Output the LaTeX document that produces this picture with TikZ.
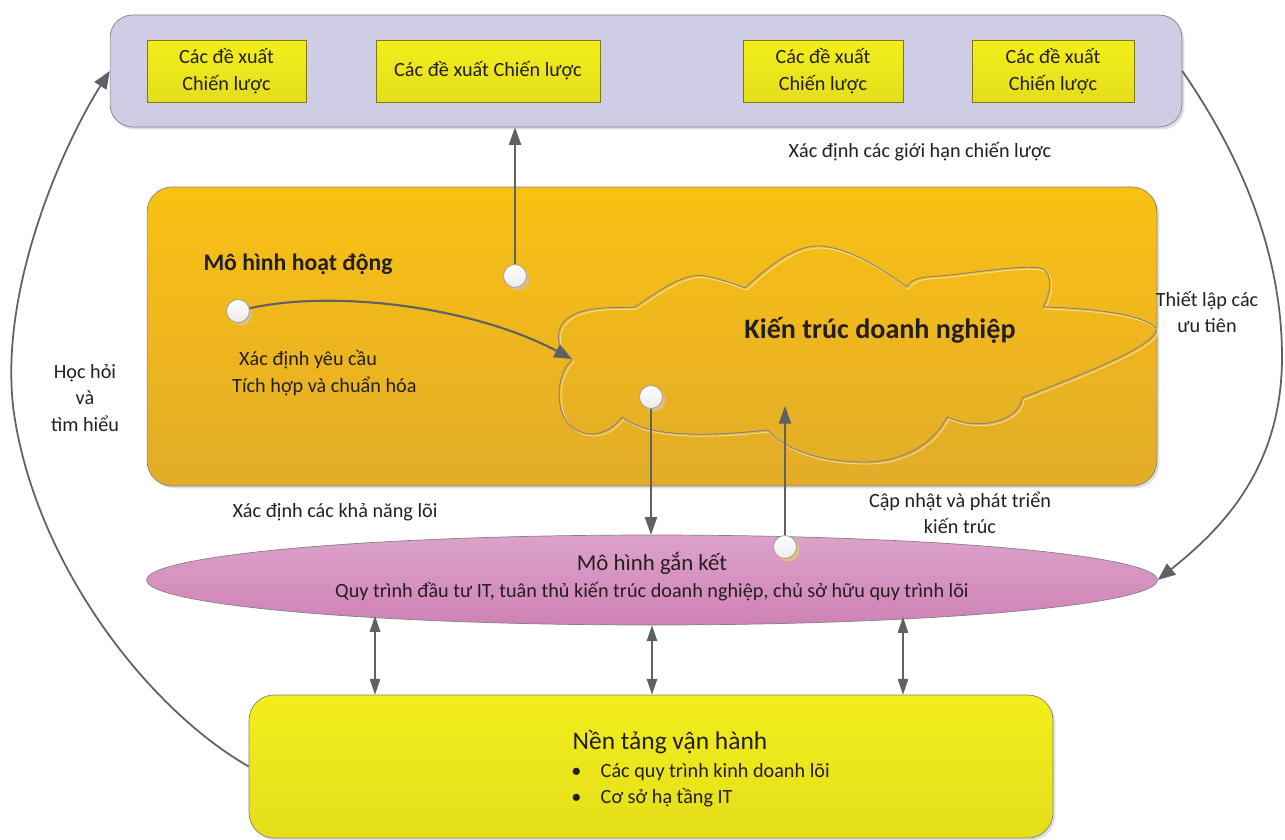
\documentclass[tikz,border=0pt]{standalone}
\usepackage{fontspec}
\setmainfont{Carlito}
\usetikzlibrary{arrows.meta,shapes.geometric,shadows}
\definecolor{lavender}{RGB}{207,204,230}
\definecolor{amberTop}{RGB}{250,193,19}
\definecolor{amberBot}{RGB}{226,172,40}
\definecolor{pinkTop}{RGB}{221,162,202}
\definecolor{pinkBot}{RGB}{207,130,182}
\definecolor{lemonTop}{RGB}{243,238,26}
\definecolor{lemonBot}{RGB}{228,222,28}
\definecolor{edgegray}{RGB}{130,130,132}
\definecolor{arrowgray}{RGB}{96,97,100}
\definecolor{knobshade}{RGB}{222,190,130}
\definecolor{inkgray}{RGB}{35,31,32}
\newcommand{\cloudpath}{(572,360) .. controls (555,350) and (550,322) .. (580,312)
  .. controls (600,306) and (620,308) .. (635,307)
  .. controls (660,290) and (685,272) .. (705,276)
  .. controls (720,279) and (735,284) .. (745,288)
  .. controls (770,265) and (795,245) .. (820,246)
  .. controls (850,248) and (880,268) .. (907,287)
  .. controls (912,277) and (925,277) .. (940,276)
  .. controls (980,272) and (1020,265) .. (1040,268)
  .. controls (1055,272) and (1050,295) .. (1043,307)
  .. controls (1080,308) and (1140,312) .. (1156,328)
  .. controls (1160,345) and (1080,375) .. (1022,398)
  .. controls (1020,420) and (980,432) .. (947,417)
  .. controls (930,450) and (895,462) .. (865,462)
  .. controls (820,462) and (785,450) .. (768,430)
  .. controls (720,435) and (650,440) .. (622,417)
  .. controls (605,440) and (575,440) .. (563,415)
  .. controls (555,395) and (560,370) .. (572,360)}

\begin{document}
\begin{tikzpicture}[x=0.02cm,y=-0.02cm,
  panel/.style={draw=edgegray, drop shadow={shadow xshift=0.05cm,shadow yshift=-0.05cm,fill=black!12,opacity=1}},
  prop/.style={draw=lemonBot!55!black, rectangle, top color=lemonTop, bottom color=lemonBot, minimum height=1.24cm, align=center, text=inkgray, font=\fontsize{11.5}{15}\selectfont, inner sep=1pt},
  knob/.style={circle, draw=black!40, top color=white, bottom color=black!8, minimum size=0.46cm, inner sep=0pt, drop shadow={shadow xshift=0.06cm,shadow yshift=-0.06cm,fill=knobshade,opacity=1}},
  lbl/.style={align=center, text=inkgray, font=\fontsize{11.5}{15}\selectfont},
  arr/.style={arrowgray, line width=1pt, -{Triangle[length=10pt,width=8pt]}},
  link/.style={arrowgray, line width=0.6pt, -{Triangle[length=10pt,width=7pt]}},
  dlink/.style={arrowgray, line width=0.6pt, {Triangle[length=9pt,width=6pt]}-{Triangle[length=9pt,width=6pt]}}]
\useasboundingbox (0,0) rectangle (1285,839);

\node[panel, rounded corners=0.45cm, fill=lavender, minimum width=21.44cm, minimum height=2.24cm] (strat) at (646,71) {};
\node[prop, minimum width=3.18cm] (prop1) at (226.5,71) {Các đề xuất\\Chiến lược};
\node[prop, minimum width=4.48cm] (prop2) at (488,71) {Các đề xuất Chiến lược};
\node[prop, minimum width=3.2cm] (prop3) at (823,71) {Các đề xuất\\Chiến lược};
\node[prop, minimum width=3.24cm] (prop4) at (1053,71) {Các đề xuất\\Chiến lược};
\node[lbl] (limits) at (920,152) {Xác định các giới hạn chiến lược};

\node[panel, rounded corners=0.5cm, top color=amberTop, bottom color=amberBot, minimum width=20.2cm, minimum height=5.98cm] (opmodel) at (652,336.5) {};
\node[lbl, font=\fontsize{13.5}{16}\selectfont\bfseries] (opmodel-t) at (298,264) {Mô hình hoạt động};
\node[lbl, align=left, anchor=west] (needs) at (226,373) {\hspace{4pt}Xác định yêu cầu\\Tích hợp và chuẩn hóa};

\draw[white, opacity=0.55, line width=0.5pt, shift={(2,2)}] \cloudpath;
\draw[edgegray, line width=0.5pt] \cloudpath;
\node[lbl, font=\fontsize{16}{19}\selectfont\bfseries] (ea) at (880,330) {Kiến trúc doanh nghiệp};
\coordinate (cl-w) at (572,359);
\coordinate (cl-s) at (785,406);

\node[ellipse, draw=edgegray, top color=pinkTop, bottom color=pinkBot, minimum width=20.22cm, minimum height=1.8cm, inner sep=0pt] (eng) at (652,580) {};
\node[lbl, font=\fontsize{13}{16}\selectfont] (eng-t) at (652,563) {Mô hình gắn kết};
\node[lbl] (eng-d) at (652,592) {Quy trình đầu tư IT, tuân thủ kiến trúc doanh nghiệp, chủ sở hữu quy trình lõi};
\node[lbl] (core) at (335,512) {Xác định các khả năng lõi};
\node[lbl] (update) at (960,513) {Cập nhật và phát triển\\kiến trúc};
\coordinate (eng-l) at (375,616);
\coordinate (eng-r) at (903,617);

\node[panel, rounded corners=0.5cm, top color=lemonTop, bottom color=lemonBot, minimum width=16.08cm, minimum height=2.86cm] (ops) at (651,766.5) {};
\node[lbl, font=\fontsize{14.5}{17}\selectfont] (ops-t) at (670,742) {Nền tảng vận hành};
\node[lbl, align=left, anchor=west, inner sep=0pt] (ops-l) at (571,785) {\textbullet\hspace{11pt}Các quy trình kinh doanh lõi\\\textbullet\hspace{11pt}Cơ sở hạ tầng IT};

\node[lbl] (learn) at (85,398) {Học hỏi\\và\\tìm hiểu};
\node[lbl] (prio) at (1207,312) {Thiết lập các\\ưu tiên};

\node[knob] (knobA) at (238,311) {};
\node[knob] (knobB) at (515,276) {};
\node[knob] (knobC) at (651,397) {};
\node[knob] (knobD) at (785,547) {};

\draw[arr, line width=1.2pt] (knobA) .. controls (330,290) and (470,305) .. (cl-w);
\draw[link] (knobB) -- (knobB |- strat.south);
\draw[link] (knobC) -- (knobC |- eng.north);
\draw[link] (knobD) -- (cl-s);
\draw[dlink] (eng-l) -- (eng-l |- ops.north);
\draw[dlink] (eng.south) -- (eng.south |- ops.north);
\draw[dlink] (eng-r) -- (eng-r |- ops.north);
\draw[arr] (ops.west) .. controls (150,710) and (40,570) .. (15,420) .. controls (-5,300) and (60,150) .. (strat.west);
\draw[arr] (strat.east) .. controls (1230,140) and (1282,240) .. (1282,357) .. controls (1282,470) and (1220,530) .. (eng.east);
\end{tikzpicture}
\end{document}
